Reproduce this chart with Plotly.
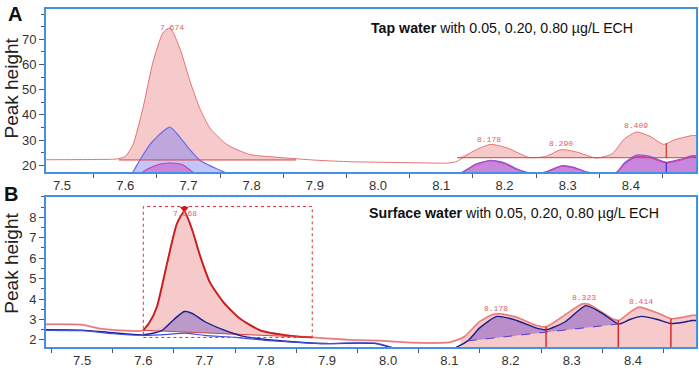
import numpy as np
import plotly.graph_objects as go

# ---------------- Panel A (tap water) ----------------
A_hi_t = [7.475, 7.55, 7.587, 7.60, 7.612, 7.628, 7.644, 7.660, 7.671, 7.687, 7.703, 7.718,
          7.734, 7.761, 7.797, 7.850, 7.903, 7.956, 8.0, 8.06, 8.112, 8.125, 8.15, 8.178,
          8.205, 8.239, 8.265, 8.290, 8.315, 8.345, 8.37, 8.39, 8.409, 8.43, 8.452, 8.47, 8.497, 8.503]
A_hi_v = [22.2, 22.3, 22.5, 23.5, 28, 42.6, 61, 72.7, 74.5, 66, 53, 42.6,
          34.8, 28.2, 24.3, 23, 22, 21.4, 21.2, 21.0, 20.9, 21.6, 25.5, 28.3,
          26.8, 23.1, 23.5, 26.2, 25.2, 22.9, 24.5, 30.5, 33.2, 31.5, 28.3, 30.2, 31.8, 31.8]
A_base1_t = [7.59, 7.87]
A_base1_v = [22.1, 22.1]
A_base2_t = [8.125, 8.503]
A_base2_v = [23.0, 23.0]

A_mid_t = [7.475, 7.60, 7.612, 7.623, 7.639, 7.66, 7.671, 7.687, 7.703, 7.718, 7.75, 7.77, 7.80,
           8.10, 8.134, 8.155, 8.178, 8.20, 8.22, 8.245, 8.265, 8.29, 8.31, 8.33, 8.365, 8.378,
           8.39, 8.409, 8.43, 8.456, 8.48, 8.497, 8.503]
A_mid_v = [14, 14.5, 17.3, 22, 28.2, 33.5, 35.2, 31, 26, 22, 18, 16, 15,
           14.5, 17.3, 20.5, 22, 21, 18.5, 16.8, 17.3, 19.8, 19.2, 17.3, 16.5, 17.3,
           21, 24, 23.5, 21.2, 22.5, 23.8, 23.8]

A_low_t = [7.475, 7.62, 7.628, 7.645, 7.658, 7.671, 7.69, 7.707, 7.72, 7.80,
           8.10, 8.134, 8.155, 8.178, 8.20, 8.22, 8.245, 8.265, 8.29, 8.31, 8.33, 8.365, 8.378,
           8.39, 8.409, 8.43, 8.456, 8.48, 8.497, 8.503]
A_low_v = [12, 13, 17.3, 19.6, 20.6, 20.9, 20.3, 17.3, 15.5, 13,
           13, 17.3, 20.3, 21.8, 20.6, 18.3, 16.6, 17.3, 19.6, 19.0, 17.3, 16.3, 17.3,
           20.6, 23.4, 23.0, 21.0, 22.2, 23.4, 23.4]
A_mark_t = 8.456

A_lbl_t = [7.674, 8.176, 8.290, 8.408]
A_lbl_v = [74.7, 30.3, 28.6, 35.6]
A_lbl_txt = ["7.674", "8.178", "8.290", "8.409"]

# ---------------- Panel B (surface water) ----------------
B_hi_t = [7.441, 7.50, 7.53, 7.60, 7.61, 7.622, 7.639, 7.655, 7.667, 7.680, 7.693, 7.709, 7.731,
          7.758, 7.791, 7.840, 7.876, 7.938, 7.98, 8.046, 8.10, 8.124, 8.149, 8.170, 8.181,
          8.209, 8.242, 8.258, 8.284, 8.317, 8.328, 8.366, 8.377, 8.395, 8.410, 8.443, 8.462,
          8.48, 8.497, 8.503]
B_hi_v = [2.76, 2.74, 2.55, 2.47, 2.85, 3.6, 5.77, 7.7, 8.28, 7.37, 6.09, 4.8, 3.84,
          3.04, 2.47, 2.2, 2.12, 2.0, 1.97, 1.86, 1.88, 2.15, 2.88, 3.23, 3.28,
          3.12, 2.71, 2.64, 3.12, 3.76, 3.74, 3.04, 2.95, 3.35, 3.6, 3.28, 3.04,
          3.1, 3.2, 3.2]
B_main_t = [7.60, 7.876]
B_main_v = [2.47, 2.12]
B_fill2_t = [8.118, 8.503]
B_cuts_t = [8.258, 8.376, 8.462]

B_mid_t = [7.441, 7.50, 7.55, 7.60, 7.63, 7.65, 7.667, 7.68, 7.70, 7.73, 7.76, 7.80, 7.85,
           7.90, 7.95, 7.98, 8.01, 8.10, 8.13, 8.15, 8.178, 8.21, 8.24, 8.258, 8.29, 8.323,
           8.35, 8.377, 8.395, 8.414, 8.44, 8.462, 8.48, 8.497, 8.503]
B_mid_v = [2.5, 2.48, 2.35, 2.25, 2.45, 3.0, 3.39, 3.3, 2.9, 2.5, 2.2, 2.02, 1.9,
           1.82, 1.84, 1.82, 1.6, 1.5, 1.95, 2.6, 3.15, 2.95, 2.6, 2.5, 2.9, 3.68,
           3.3, 2.78, 3.0, 3.15, 3.0, 2.8, 2.85, 2.95, 2.95]
B_base_t = [8.13, 8.377]
B_base_v = [1.95, 2.78]

B_low_t = [7.441, 7.50, 7.55, 7.60, 7.64, 7.667, 7.70, 7.75, 7.80, 7.85, 7.90, 7.95, 7.98, 8.01]
B_low_v = [2.47, 2.45, 2.3, 2.22, 2.27, 2.33, 2.22, 2.12, 1.98, 1.88, 1.82, 1.86, 1.84, 1.6]

B_box_t = [7.60, 7.876]
B_box_v = [2.12, 8.53]
B_peak = (7.667, 8.42)

B_lbl_t = [7.668, 8.176, 8.320, 8.413]
B_lbl_v = [8.18, 3.52, 4.08, 3.87]
B_lbl_txt = ["7.668", "8.178", "8.323", "8.414"]

X_TICKS = [7.5, 7.6, 7.7, 7.8, 7.9, 8.0, 8.1, 8.2, 8.3, 8.4]
X_MINOR = [7.45, 7.55, 7.65, 7.75, 7.85, 7.95, 8.05, 8.15, 8.25, 8.35, 8.45]

# ---------------- styling ----------------
PINK_FILL = "rgba(238,150,150,0.50)"
RED_LINE = "#e57373"
DARK_RED = "#c81e1e"
BLUE_FILL = "rgba(110,120,245,0.42)"
BLUE_LINE = "#6a6af0"
MAG_FILL = "rgba(205,70,190,0.50)"
MAG_LINE = "#cc3fae"
NAVY = "#1c1c8a"
FRAME = "#4490e2"
FONT = "Arial, Liberation Sans, sans-serif"
SMOOTH = 0.6

fig = go.Figure()


def seg(t, v, lo, hi):
    t = np.asarray(t, float)
    v = np.asarray(v, float)
    m = (t > lo) & (t < hi)
    tt = np.concatenate([[lo], t[m], [hi]])
    vv = np.interp(tt, t, v)
    return tt, vv


def band(tt, upper, lower, color, xa, ya):
    fig.add_trace(go.Scatter(x=tt, y=lower, mode="lines", line=dict(width=0),
                             hoverinfo="skip", showlegend=False, xaxis=xa, yaxis=ya))
    fig.add_trace(go.Scatter(x=tt, y=upper, mode="lines",
                             line=dict(width=0, shape="spline", smoothing=SMOOTH),
                             fill="tonexty", fillcolor=color, hoverinfo="skip",
                             showlegend=False, xaxis=xa, yaxis=ya))


def line(t, v, color, width, xa, ya, dash=None):
    fig.add_trace(go.Scatter(x=t, y=v, mode="lines",
                             line=dict(color=color, width=width, dash=dash, shape="spline",
                                       smoothing=SMOOTH),
                             hoverinfo="skip", showlegend=False, xaxis=xa, yaxis=ya))


# ---- Panel A ----
for bt, bv in [(A_base1_t, A_base1_v), (A_base2_t, A_base2_v)]:
    tt, vv = seg(A_hi_t, A_hi_v, bt[0], bt[1])
    base = np.interp(tt, bt, bv)
    band(tt, np.maximum(vv, base), base, PINK_FILL, "x", "y")
band(A_mid_t, A_mid_v, np.full(len(A_mid_t), 0.0), BLUE_FILL, "x", "y")
band(A_low_t, A_low_v, np.full(len(A_low_t), 0.0), MAG_FILL, "x", "y")
line(A_hi_t, A_hi_v, RED_LINE, 1, "x", "y")
line(A_mid_t, A_mid_v, BLUE_LINE, 1.2, "x", "y")
line(A_low_t, A_low_v, MAG_LINE, 1.2, "x", "y")
for bt, bv in [(A_base1_t, A_base1_v), (A_base2_t, A_base2_v)]:
    fig.add_trace(go.Scatter(x=bt, y=bv, mode="lines", line=dict(color="#d84040", width=1),
                             hoverinfo="skip", showlegend=False, xaxis="x", yaxis="y"))
mk_hi = float(np.interp(A_mark_t, A_hi_t, A_hi_v))
mk_mid = float(np.interp(A_mark_t, A_mid_t, A_mid_v))
fig.add_trace(go.Scatter(x=[A_mark_t, A_mark_t], y=[A_base2_v[0], mk_hi], mode="lines",
                         line=dict(color="#d83030", width=1.2), showlegend=False,
                         hoverinfo="skip", xaxis="x", yaxis="y"))
fig.add_trace(go.Scatter(x=[A_mark_t, A_mark_t], y=[0, mk_mid], mode="lines",
                         line=dict(color="#3030d0", width=1.2), showlegend=False,
                         hoverinfo="skip", xaxis="x", yaxis="y"))

# ---- Panel B ----
tt, vv = seg(B_hi_t, B_hi_v, B_main_t[0], B_main_t[1])
base = np.interp(tt, B_main_t, B_main_v)
band(tt, vv, base, PINK_FILL, "x2", "y2")
tt2, vv2 = seg(B_hi_t, B_hi_v, B_fill2_t[0], B_fill2_t[1])
band(tt2, vv2, np.zeros(len(tt2)), PINK_FILL, "x2", "y2")
# light blue between low and navy lines
tl, vl = seg(B_low_t, B_low_v, 7.60, 7.975)
nl = np.interp(tl, B_mid_t, B_mid_v)
band(tl, np.maximum(vl, nl), nl, "rgba(120,140,250,0.45)", "x2", "y2")
# purple at main peak
tm, vm = seg(B_mid_t, B_mid_v, 7.625, 7.76)
bm = np.interp(tm, B_main_t, B_main_v)
band(tm, np.maximum(vm, bm), np.minimum(vm, bm), "rgba(100,80,200,0.40)", "x2", "y2")
# purple areas above sloped baseline
tp, vp = seg(B_mid_t, B_mid_v, B_base_t[0], B_base_t[1])
bp = np.interp(tp, B_base_t, B_base_v)
band(tp, np.maximum(vp, bp), bp, "rgba(100,60,200,0.42)", "x2", "y2")

line(B_hi_t, B_hi_v, "#f3a0a0", 2.0, "x2", "y2")
line(B_hi_t, B_hi_v, RED_LINE, 1, "x2", "y2")
tmain, vmain = seg(B_hi_t, B_hi_v, B_main_t[0], B_main_t[1])
line(tmain, vmain, DARK_RED, 1.8, "x2", "y2")
fig.add_trace(go.Scatter(x=B_main_t, y=B_main_v, mode="lines", line=dict(color="#d84040", width=1),
                         hoverinfo="skip", showlegend=False, xaxis="x2", yaxis="y2"))
line(B_mid_t, B_mid_v, NAVY, 1.4, "x2", "y2")
line(B_low_t, B_low_v, "#3a4ee8", 1.2, "x2", "y2")
fig.add_trace(go.Scatter(x=B_base_t, y=B_base_v, mode="lines",
                         line=dict(color="#5a3ad0", width=1, dash="dash"),
                         hoverinfo="skip", showlegend=False, xaxis="x2", yaxis="y2"))
for ct in B_cuts_t:
    fig.add_trace(go.Scatter(x=[ct, ct], y=[0, float(np.interp(ct, B_hi_t, B_hi_v))], mode="lines",
                             line=dict(color="#d82020", width=1.4), hoverinfo="skip",
                             showlegend=False, xaxis="x2", yaxis="y2"))
fig.add_trace(go.Scatter(x=[B_box_t[0], B_box_t[1], B_box_t[1], B_box_t[0], B_box_t[0]],
                         y=[B_box_v[0], B_box_v[0], B_box_v[1], B_box_v[1], B_box_v[0]],
                         mode="lines", line=dict(color="#e03030", width=1, dash="dot"),
                         hoverinfo="skip", showlegend=False, xaxis="x2", yaxis="y2"))
fig.add_trace(go.Scatter(x=[B_peak[0]], y=[B_peak[1]], mode="markers",
                         marker=dict(symbol="triangle-down", size=8, color="#e01010"),
                         hoverinfo="skip", showlegend=False, xaxis="x2", yaxis="y2"))

ann = []
LBLFONT = dict(family="Liberation Mono, DejaVu Sans Mono, monospace", size=8, color="#e06060")
for t, v, s in zip(A_lbl_t, A_lbl_v, A_lbl_txt):
    ann.append(dict(x=t, y=v, xref="x", yref="y", text=s, showarrow=False, font=LBLFONT))
for t, v, s in zip(B_lbl_t, B_lbl_v, B_lbl_txt):
    ann.append(dict(x=t, y=v, xref="x2", yref="y2", text=s, showarrow=False, font=LBLFONT))

W, H = 699, 368
def px(x):
    return x / W
def py(y):
    return 1 - y / H

ann += [
    dict(x=px(369), y=py(28), xref="paper", yref="paper", xanchor="left", yanchor="middle",
         text="<b>Tap water</b> with 0.05, 0.20, 0.80 µg/L ECH", showarrow=False,
         font=dict(family=FONT, size=14.2, color="#111")),
    dict(x=px(367), y=py(217), xref="paper", yref="paper", xanchor="left", yanchor="middle",
         text="<b>Surface water</b> with 0.05, 0.20, 0.80 µg/L ECH", showarrow=False,
         font=dict(family=FONT, size=14.2, color="#111")),
    dict(x=px(15), y=py(14), xref="paper", yref="paper", xanchor="center", yanchor="middle",
         text="<b>A</b>", showarrow=False, font=dict(family=FONT, size=20, color="#111")),
    dict(x=px(11), y=py(197), xref="paper", yref="paper", xanchor="center", yanchor="middle",
         text="<b>B</b>", showarrow=False, font=dict(family=FONT, size=20, color="#111")),
    dict(x=px(12), y=py(90), xref="paper", yref="paper", xanchor="center", yanchor="middle",
         text="Peak height", textangle=-90, showarrow=False, font=dict(family=FONT, size=19, color="#222")),
    dict(x=px(12), y=py(268), xref="paper", yref="paper", xanchor="center", yanchor="middle",
         text="Peak height", textangle=-90, showarrow=False, font=dict(family=FONT, size=19, color="#222")),
]

tickfont = dict(family=FONT, size=13, color="#333")
xcommon = dict(showline=True, linewidth=2, linecolor=FRAME, mirror=True, showgrid=False, zeroline=False,
               tickmode="array", tickvals=X_TICKS, ticktext=[f"{v:.1f}" for v in X_TICKS], ticks="",
               tickfont=tickfont,
               minor=dict(tickmode="array", tickvals=X_MINOR, ticks="outside", ticklen=4,
                          tickcolor="#555", tickwidth=1))
ycommon = dict(showline=True, linewidth=2, linecolor=FRAME, mirror=True, showgrid=False, zeroline=False,
               ticks="outside", ticklen=5, tickcolor="#555", tickwidth=1, tickfont=tickfont)

fig.update_layout(
    width=W, height=H, margin=dict(l=0, r=0, t=0, b=0),
    paper_bgcolor="white", plot_bgcolor="white", showlegend=False,
    xaxis=dict(domain=[px(46), px(696)], range=[7.4747, 8.503], anchor="y", **xcommon),
    yaxis=dict(domain=[py(175), py(9)], range=[17.27, 82.1], anchor="x",
               tickvals=[20, 30, 40, 50, 60, 70],
               minor=dict(dtick=5, tick0=0, ticks="outside", ticklen=3, tickcolor="#555"), **ycommon),
    xaxis2=dict(domain=[px(46), px(696)], range=[7.441, 8.503], anchor="y2", **xcommon),
    yaxis2=dict(domain=[py(353), py(200)], range=[1.64, 9.01], anchor="x2",
                tickvals=[2, 3, 4, 5, 6, 7, 8],
                minor=dict(dtick=0.5, tick0=0, ticks="outside", ticklen=3, tickcolor="#555"), **ycommon),
    annotations=ann,
)

fig.write_html("out.html", config={"displayModeBar": False},
               post_script="document.body.style.margin='0';document.body.style.overflow='hidden';")
